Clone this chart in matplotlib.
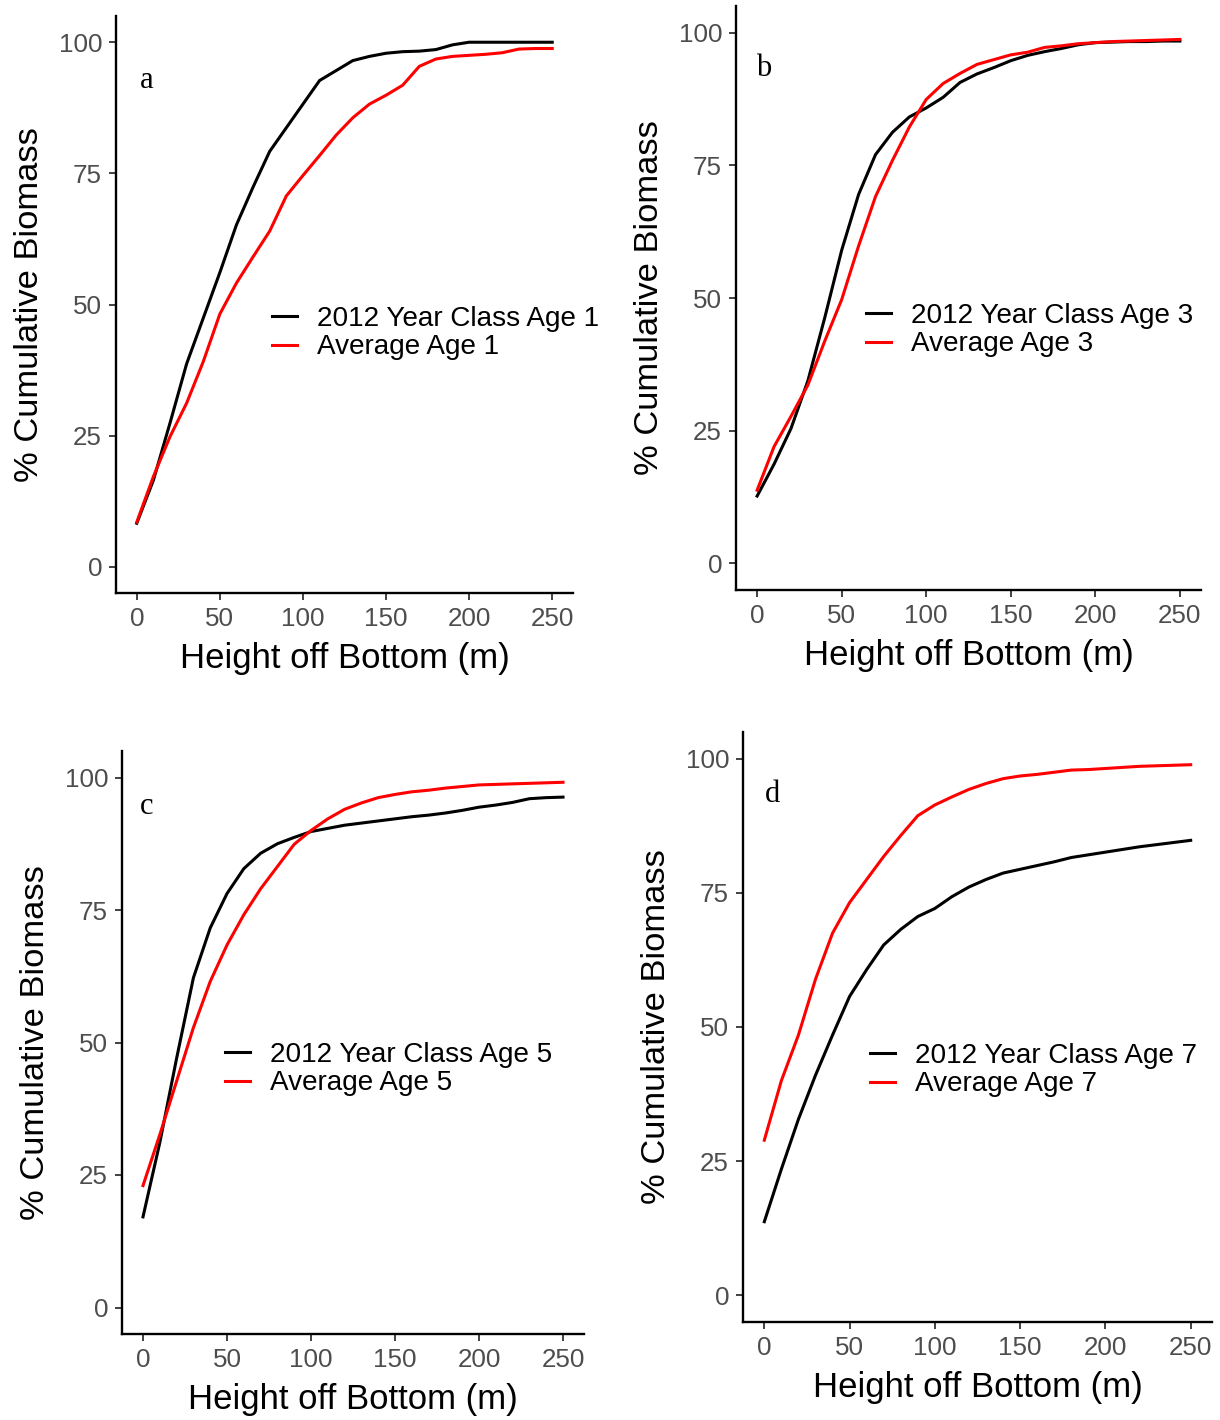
import matplotlib
matplotlib.use("Agg")
import matplotlib.pyplot as plt

plt.rcParams["font.family"] = ["Liberation Sans", "DejaVu Sans"]

HEIGHT = [0, 10, 20, 30, 40, 50, 60, 70, 80, 90, 100, 110, 120, 130, 140,
          150, 160, 170, 180, 190, 200, 210, 220, 230, 240, 250]

# panel a, age 1
YC_AGE1 = [8.3, 16.5, 27.4, 38.7, 47.4, 56.1, 65.2, 72.4, 79.2, 83.7, 88.2,
           92.7, 94.6, 96.5, 97.3, 97.9, 98.2, 98.3, 98.6, 99.5, 100.0, 100.0,
           100.0, 100.0, 100.0, 100.0]
AVG_AGE1 = [8.5, 17.2, 24.8, 31.2, 39.1, 48.2, 54.1, 59.1, 64.0, 70.7, 74.6,
            78.4, 82.3, 85.6, 88.2, 89.9, 91.8, 95.4, 96.8, 97.3, 97.5, 97.7,
            98.0, 98.7, 98.8, 98.8]
# panel b, age 3
YC_AGE3 = [12.7, 18.7, 25.4, 34.4, 46.3, 59.0, 69.5, 77.0, 81.2, 84.1, 85.8,
           87.8, 90.6, 92.2, 93.4, 94.7, 95.7, 96.4, 97.0, 97.7, 98.1, 98.2,
           98.3, 98.3, 98.4, 98.4]
AVG_AGE3 = [13.8, 22.0, 27.7, 33.6, 41.9, 49.7, 59.8, 69.1, 75.9, 82.2, 87.4,
            90.4, 92.3, 94.0, 94.9, 95.8, 96.3, 97.2, 97.5, 97.9, 98.1, 98.3,
            98.4, 98.5, 98.6, 98.7]
# panel c, age 5
YC_AGE5 = [17.1, 31.1, 47.0, 62.2, 71.6, 78.1, 82.8, 85.7, 87.5, 88.7, 89.8,
           90.4, 91.0, 91.4, 91.8, 92.2, 92.6, 92.9, 93.3, 93.8, 94.4, 94.8,
           95.3, 96.0, 96.2, 96.3]
AVG_AGE5 = [23.0, 32.6, 42.7, 52.8, 61.5, 68.4, 74.1, 79.0, 83.2, 87.4, 90.0,
            92.2, 94.0, 95.2, 96.2, 96.8, 97.3, 97.6, 98.0, 98.3, 98.6, 98.7,
            98.8, 98.9, 99.0, 99.1]
# panel d, age 7
YC_AGE7 = [13.7, 23.5, 32.8, 41.0, 48.5, 55.7, 60.7, 65.3, 68.2, 70.6, 72.1,
           74.3, 76.1, 77.5, 78.7, 79.4, 80.1, 80.8, 81.6, 82.1, 82.6, 83.1,
           83.6, 84.0, 84.4, 84.8]
AVG_AGE7 = [28.9, 40.0, 48.5, 58.9, 67.5, 73.2, 77.5, 81.8, 85.7, 89.4, 91.4,
            92.9, 94.3, 95.4, 96.3, 96.8, 97.1, 97.5, 97.9, 98.0, 98.2, 98.4,
            98.6, 98.7, 98.8, 98.9]

PANELS = [
    ("a", 1, YC_AGE1, AVG_AGE1),
    ("b", 3, YC_AGE3, AVG_AGE3),
    ("c", 5, YC_AGE5, AVG_AGE5),
    ("d", 7, YC_AGE7, AVG_AGE7),
]

W, H = 1220, 1420
# axes boxes in pixels: left, right, top, bottom
BOXES = [(116, 573, 16, 593), (736, 1201, 6, 590),
         (122, 584, 751, 1334), (743, 1212, 732, 1322)]
# legend anchor (x of key start, y centre between rows) in pixels
LEG_POS = [(272, 333), (866, 330), (225, 1069), (870, 1070)]
LETTER_POS = [(147, 81), (764, 69), (147, 807), (773, 795)]

fig = plt.figure(figsize=(W / 100, H / 100), dpi=100)

for (letter, age, yc, avg), (l, r, t, b), (lx, ly), (tx, ty) in zip(
        PANELS, BOXES, LEG_POS, LETTER_POS):
    ax = fig.add_axes([l / W, 1 - b / H, (r - l) / W, (b - t) / H])
    ax.plot(HEIGHT, yc, color="black", lw=2.2,
            label=f"2012 Year Class Age {age}")
    ax.plot(HEIGHT, avg, color="#ff0000", lw=2.2, label=f"Average Age {age}")
    ax.set_xlim(-12.5, 262.5)
    ax.set_ylim(-5, 105)
    ax.set_xticks([0, 50, 100, 150, 200, 250])
    ax.set_yticks([0, 25, 50, 75, 100])
    for s in ["top", "right"]:
        ax.spines[s].set_visible(False)
    for s in ["left", "bottom"]:
        ax.spines[s].set_linewidth(1.7)
    ax.tick_params(length=5, width=1.3, color="#333333", labelsize=18.7,
                   labelcolor="#4d4d4d", pad=5)
    ax.set_xlabel("Height off Bottom (m)", fontsize=25, labelpad=8)
    ax.set_ylabel("% Cumulative Biomass", fontsize=24.8, labelpad=10)
    fig.text(tx / W, 1 - ty / H, letter, ha="center", va="center",
             fontsize=22, family=["Liberation Serif", "DejaVu Serif"])
    ax.legend(loc="center left", bbox_to_anchor=(lx / W, 1 - ly / H),
              bbox_transform=fig.transFigure, frameon=False, fontsize=20.1,
              handlelength=0.9, handletextpad=0.72, labelspacing=0.1,
              borderpad=0, borderaxespad=0)

fig.savefig("out.png", dpi=100)
